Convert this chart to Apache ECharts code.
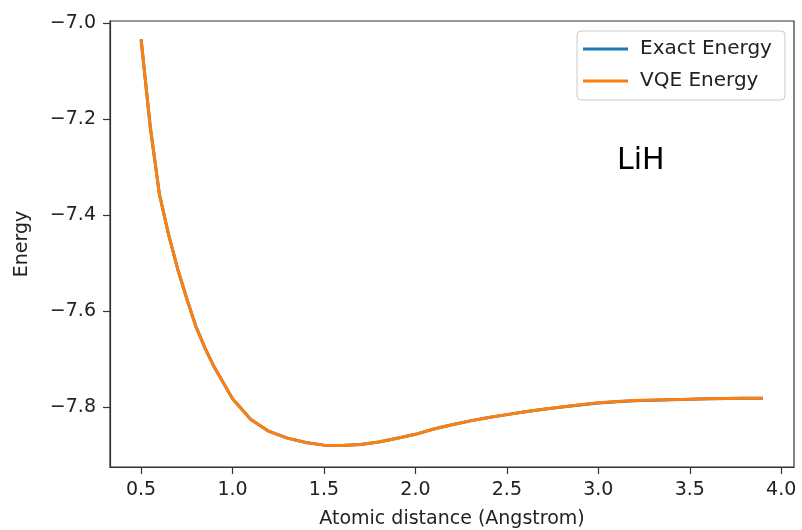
<!DOCTYPE html>
<html>
<head>
<meta charset="utf-8">
<script src="https://cdn.jsdelivr.net/npm/echarts@6/dist/echarts.min.js"></script>
<style>html,body{margin:0;padding:0;background:#fff;}#c{width:802px;height:530px;}</style>
</head>
<body>
<div id="c"></div>
<script>
const distances = [0.5,0.55,0.6,0.65,0.7,0.75,0.8,0.85,0.9,1.0,1.1,1.2,1.3,1.4,1.5,1.6,1.7,1.8,1.9,2.0,2.1,2.2,2.3,2.4,2.5,2.6,2.7,2.8,2.9,3.0,3.1,3.2,3.3,3.4,3.5,3.6,3.7,3.8,3.9];
const exactEnergy = [-7.034,-7.216,-7.356,-7.44,-7.512,-7.574,-7.632,-7.677,-7.716,-7.782,-7.825,-7.850,-7.864,-7.873,-7.8785,-7.8795,-7.877,-7.872,-7.864,-7.856,-7.845,-7.836,-7.828,-7.821,-7.815,-7.809,-7.804,-7.799,-7.795,-7.791,-7.788,-7.786,-7.785,-7.784,-7.783,-7.782,-7.7815,-7.781,-7.781];
const vqeEnergy = [-7.034,-7.216,-7.356,-7.44,-7.512,-7.574,-7.632,-7.677,-7.716,-7.782,-7.825,-7.850,-7.864,-7.873,-7.8785,-7.8795,-7.877,-7.872,-7.864,-7.856,-7.845,-7.836,-7.828,-7.821,-7.815,-7.809,-7.804,-7.799,-7.7945,-7.7905,-7.7875,-7.7855,-7.7845,-7.7838,-7.783,-7.782,-7.7815,-7.781,-7.781];
const xTicks = [0.5,1.0,1.5,2.0,2.5,3.0,3.5,4.0];
const yTicks = [-7.8,-7.6,-7.4,-7.2,-7.0];
const seriesNames = ['Exact Energy','VQE Energy'];

const FONT = 'DejaVu Sans';
const TXT = '#222';
const chart = echarts.init(document.getElementById('c'), null, {renderer:'canvas'});
const fmt = v => (v < 0 ? '\u2212' : '') + Math.abs(v).toFixed(1);
chart.setOption({
  animation:false,
  backgroundColor:'#fff',
  grid:{left:110,right:8,top:21,bottom:63,outerBoundsMode:'none',containLabel:false,show:true,borderColor:'#333',borderWidth:1.2,backgroundColor:'transparent'},
  legend:{
    orient:'vertical', left:577, top:31, data:seriesNames,
    icon:'rect', itemWidth:45, itemHeight:3, itemGap:12,
    padding:[8,13,9,6],
    backgroundColor:'rgba(255,255,255,0.8)', borderColor:'#ccc', borderWidth:1, borderRadius:4,
    textStyle:{fontFamily:FONT,fontSize:20,color:TXT,lineHeight:19,padding:[0,0,0,7]}
  },
  xAxis:{
    type:'value', min:0.33, max:4.07,
    name:'Atomic distance (Angstrom)', nameLocation:'middle', nameGap:43,
    nameTextStyle:{fontFamily:FONT,fontSize:19,color:TXT,lineHeight:19},
    axisLine:{show:true,onZero:false,lineStyle:{color:'#333',width:1.2}},
    axisTick:{show:true,length:7,lineStyle:{color:'#333',width:1.2},customValues:xTicks},
    axisLabel:{fontFamily:FONT,fontSize:19,color:TXT,margin:14,customValues:xTicks,formatter:fmt},
    splitLine:{show:false}
  },
  yAxis:{
    type:'value', min:-7.924, max:-6.996,
    name:'Energy', nameLocation:'middle', nameGap:78,
    nameTextStyle:{fontFamily:FONT,fontSize:19,color:TXT,lineHeight:19},
    axisLine:{show:true,onZero:false,lineStyle:{color:'#333',width:1.2}},
    axisTick:{show:true,length:7,lineStyle:{color:'#333',width:1.2},customValues:yTicks},
    axisLabel:{fontFamily:FONT,fontSize:19,color:TXT,margin:14,customValues:yTicks,formatter:fmt},
    splitLine:{show:false}
  },
  series:[
    {name:seriesNames[0],type:'line',data:distances.map((d,i)=>[d,exactEnergy[i]]),showSymbol:false,symbol:'none',
     color:'#1f77b4',lineStyle:{color:'#1f77b4',width:3}},
    {name:seriesNames[1],type:'line',data:distances.map((d,i)=>[d,vqeEnergy[i]]),showSymbol:false,symbol:'none',
     color:'#ff7f0e',lineStyle:{color:'#ff7f0e',width:3}}
  ],
  graphic:[
    {type:'text',left:617,top:146,style:{text:'LiH',fontFamily:FONT,fontSize:30,fill:'#000'}}
  ]
});
</script>
</body>
</html>
